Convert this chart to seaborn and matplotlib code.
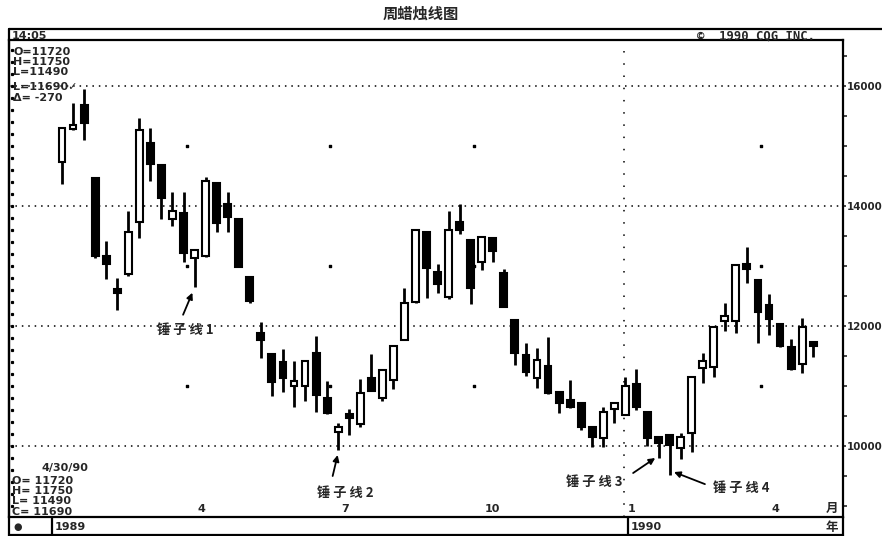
import matplotlib
matplotlib.use('Agg')
import matplotlib.pyplot as plt
from matplotlib.lines import Line2D
from matplotlib.ticker import MultipleLocator, NullFormatter
import matplotlib.transforms as mtrans
import numpy as np
import pandas as pd
import seaborn as sns

# weekly candles, 1/9/89 .. 4/30/90
weeks = pd.date_range('1989-01-09', periods=69, freq='W-MON')
opens = [14730, 15280, 15680, 14460, 13160, 12620, 12860, 13740, 15050, 14690,
         13790, 13890, 13140, 13160, 14390, 14040, 13790, 12810, 11880, 11530,
         11400, 11000, 11000, 11550, 10800, 10230, 10520, 10370, 11130, 10800,
         11100, 11770, 12400, 13570, 12900, 12490, 13740, 13440, 13060, 13470,
         12880, 12100, 11520, 11130, 11330, 10900, 10770, 10720, 10320, 10130,
         10620, 10520, 11030, 10570, 10150, 10180, 9970, 10220, 11300, 11320,
         12080, 12080, 13040, 12770, 12350, 12030, 11650, 11370, 11720]
highs = [15320, 15710, 15950, 14480, 13420, 12800, 13910, 15460, 15300, 14700,
         14240, 14240, 13270, 14480, 14400, 14240, 13800, 12820, 12070, 11540,
         11620, 11420, 11430, 11840, 11090, 10380, 10620, 11120, 11540, 11280,
         11680, 12640, 13620, 13580, 13040, 13910, 14040, 13450, 13500, 13480,
         12950, 12110, 11720, 11630, 11820, 10910, 11100, 10740, 10330, 10650,
         10730, 11150, 11280, 10580, 10160, 10190, 10220, 11160, 11550, 11990,
         12380, 13030, 13320, 12780, 12540, 12040, 11790, 12130, 11750]
lows = [14370, 15260, 15100, 13140, 12790, 12270, 12840, 13470, 14420, 13790,
        13660, 13060, 12650, 13150, 13560, 13560, 12980, 12390, 11470, 10830,
        10900, 10650, 10750, 10570, 10540, 9930, 10180, 10320, 10910, 10750,
        10950, 11760, 12390, 12470, 12550, 12450, 13540, 12370, 12940, 13060,
        12310, 11350, 11170, 10970, 10870, 10550, 10640, 10270, 9980, 9980,
        10380, 10510, 10600, 10000, 9800, 9520, 9780, 9900, 11050, 11150,
        11920, 11880, 12720, 11720, 11850, 11650, 11270, 11220, 11490]
closes = [15300, 15350, 15390, 13160, 13040, 12560, 13560, 15260, 14700, 14140,
          13920, 13220, 13260, 14410, 13720, 13820, 12990, 12420, 11760, 11070,
          11130, 11090, 11420, 10850, 10550, 10320, 10480, 10880, 10920, 11270,
          11670, 12380, 13600, 12970, 12700, 13600, 13600, 12640, 13490, 13250,
          12320, 11550, 11230, 11430, 10880, 10720, 10650, 10320, 10150, 10570,
          10720, 11000, 10650, 10130, 10050, 10020, 10150, 11150, 11420, 11980,
          12170, 13020, 12950, 12230, 12120, 11670, 11280, 11980, 11690]

grid_levels = [10000, 12000, 14000, 16000]
hammer_labels = ['锤 子 线 1', '锤 子 线 2', '锤 子 线 3', '锤 子 线 4']

W, H = 882, 536
sns.set_theme(style='white')
plt.rcParams['font.family'] = ['DejaVu Sans']
cjk = ['Noto Sans CJK SC', 'DejaVu Sans']

df = pd.DataFrame({'week': weeks, 'open': opens, 'high': highs,
                   'low': lows, 'close': closes})
df['x'] = np.arange(len(df))
df['up'] = df['close'] > df['open']

fig = plt.figure(figsize=(W / 100, H / 100), dpi=100)
fig.patch.set_facecolor('white')


def fx(px):
    return px / W


def fy(py):
    return 1 - py / H


ax = fig.add_axes([fx(9), fy(517), fx(843) - fx(9), fy(40) - fy(517)])
ax.set_facecolor('white')
ax.set_xlim(-4.8, 70.7)
ax.set_ylim(8817, 16767)

# grid
for lv in grid_levels:
    ax.axhline(lv, color='black', lw=1.1, ls=(0, (1, 3.2)), zorder=1)

# quarter ticks from the dates
qpos = [i for i in range(1, len(df)) if df.week[i].month != df.week[i - 1].month
        and df.week[i].month in (1, 4, 7, 10)]
blend = mtrans.blended_transform_factory(ax.transData, ax.transAxes)
for p in qpos:
    m = df.week[p].month
    if m == 1:
        ax.axvline(p - 0.1, color='black', lw=1.1, ls=(0, (1, 7)), zorder=1)
    else:
        ax.scatter([p - 0.7] * 3, [11000, 13000, 15000], s=2, color='black',
                   marker='s', zorder=1)
    ax.text(p + 0.25, 0.017, str(m), transform=blend,
            ha='left', va='center', fontsize=8, fontweight='bold')

# candles
ax.vlines(df['x'], df['low'], df['high'], color='black', lw=2, zorder=2)
body_lo = df[['open', 'close']].min(axis=1)
body_h = (df['close'] - df['open']).abs()
small = body_h < 70
body_lo = body_lo.where(~small, (df['open'] + df['close']) / 2 - 35)
body_h = body_h.clip(lower=70)
ax.bar(df['x'], body_h, bottom=body_lo, width=0.62,
       color=np.where(df['up'], 'white', 'black'), edgecolor='black',
       linewidth=1.5, zorder=3)

# hammer labels and arrows
label_pos = [(11.2, 11937), (25.6, 9215), (48.2, 9400), (61.5, 9300)]
arrow_tip = [(11.8, 12555), (24.95, 9850), (53.7, 9800), (55.4, 9566)]
arrow_start = [(10.96, 12188), (24.5, 9500), (51.7, 9550), (58.2, 9365)]
for lab, lp, tip, st in zip(hammer_labels, label_pos, arrow_tip, arrow_start):
    ax.text(lp[0], lp[1], lab, family=cjk, fontsize=9.5, fontweight='bold',
            ha='center', va='center', zorder=5)
    ax.annotate('', xy=tip, xytext=st,
                arrowprops=dict(arrowstyle='-|>', color='black', lw=1.3,
                                mutation_scale=9, shrinkA=0, shrinkB=0))

# axes styling
for s in ax.spines.values():
    s.set_color('black')
    s.set_linewidth(1.6)
ax.set_xticks([])
ax.yaxis.set_minor_locator(MultipleLocator(500))
ax.tick_params(axis='y', which='both', left=False, right=True, labelleft=False,
               labelright=True, direction='out')
ax.tick_params(axis='y', which='major', length=2, width=1.2, pad=1,
               labelsize=7.4)
ax.tick_params(axis='y', which='minor', length=3, width=1.2)
ax.set_yticks(grid_levels)
ax.set_yticklabels([str(v) for v in grid_levels], fontweight='bold')
ax.yaxis.set_minor_formatter(NullFormatter())
# left inner dots
for v in np.arange(9000, 16700, 200):
    ax.plot([-4.5], [v], marker='s', ms=1.3, color='black', clip_on=False)

# header and footer frame
def hline(y, x0, x1, lw=1.6):
    fig.add_artist(Line2D([fx(x0), fx(x1)], [fy(y), fy(y)], color='black', lw=lw))


def vline(x, y0, y1, lw=1.6):
    fig.add_artist(Line2D([fx(x), fx(x)], [fy(y0), fy(y1)], color='black', lw=lw))


hline(29, 9, 882)
vline(9, 29, 536)
vline(843, 517, 536)
hline(535, 9, 843)
vline(52, 517, 536)
vline(628, 517, 536)

fig.text(0.477, fy(14), '周蜡烛线图', family=cjk, fontsize=11,
         fontweight='bold', ha='center', va='center')
fig.text(fx(12), fy(36), '14:05', fontsize=8, fontweight='bold', va='center')
fig.text(fx(697), fy(35.5), '©  1990 CQG INC.', family='DejaVu Sans Mono',
         fontsize=8.8, fontweight='bold', va='center')

top_info = ['O=11720', 'H=11750', 'L=11490', 'L=11690✓', 'Δ= -270']
for t, y in zip(top_info, [52, 62, 72, 87, 98]):
    fig.text(fx(13), fy(y), t, fontsize=8, fontweight='bold', va='center')

fig.text(fx(42), fy(468), '4/30/90', fontsize=8, fontweight='bold', va='center')
bot_info = ['O= 11720', 'H= 11750', 'L= 11490', 'C= 11690']
for t, y in zip(bot_info, [481, 491, 501, 512]):
    fig.text(fx(12), fy(y), t, fontsize=8, fontweight='bold', va='center')

fig.text(fx(13), fy(527), '●', fontsize=7, va='center')
fig.text(fx(55), fy(527), '1989', fontsize=8, fontweight='bold', va='center')
fig.text(fx(631), fy(527), '1990', fontsize=8, fontweight='bold', va='center')
fig.text(fx(826), fy(508), '月', family=cjk, fontsize=9, fontweight='bold', va='center')
fig.text(fx(826), fy(527), '年', family=cjk, fontsize=9, fontweight='bold', va='center')

fig.savefig('out.png', dpi=100, facecolor='white')
